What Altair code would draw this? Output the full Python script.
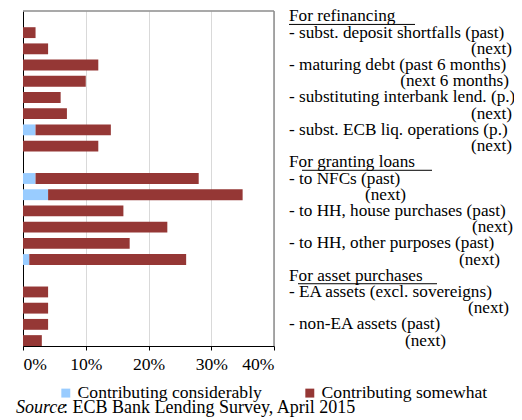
import altair as alt
import pandas as pd

# ---- data ----
rows = [f"r{i:02d}" for i in range(21)]
labels = [
    "For refinancing",
    "- subst. deposit shortfalls (past)",
    "(next)",
    "- maturing debt (past 6 months)",
    "(next 6 months)",
    "- substituting interbank lend. (p.)",
    "(next)",
    "- subst. ECB liq. operations (p.)",
    "(next)",
    "For granting loans",
    "- to NFCs (past)",
    "(next)",
    "- to HH, house purchases (past)",
    "(next)",
    "- to HH, other purposes (past)",
    "(next)",
    "For asset purchases",
    "- EA assets (excl. sovereigns)",
    "(next)",
    "- non-EA assets (past)",
    "(next)",
]
considerably = [None, 0, 0, 0, 0, 0, 0, 2, 0, None, 2, 4, 0, 0, 0, 1, None, 0, 0, 0, 0]
somewhat = [None, 2, 4, 12, 10, 6, 7, 12, 12, None, 26, 31, 16, 23, 17, 25, None, 4, 4, 4, 3]
series = ["Contributing considerably", "Contributing somewhat"]
colors = ["#99CCFF", "#953735"]
ticks = [0, 10, 20, 30, 40]

FONT = "Liberation Serif, Times New Roman, serif"
FS = 17.6
FS_LAB = 17.2

# ---- layout for the right-hand label column (plot-relative pixels) ----
W, H = 251, 335
LEFT_X = 266
right_edge = {2: 489, 4: 486, 6: 489, 8: 489, 11: 383, 13: 490, 15: 477, 18: 486, 20: 423}
headers = {0: (266, 392), 9: (279, 409), 16: (275, 414)}

# ---- build tables ----
bar_rows = []
for r, c, s in zip(rows, considerably, somewhat):
    if c is None:
        continue
    bar_rows.append({"row": r, "series": series[0], "value": c, "ord": 0})
    bar_rows.append({"row": r, "series": series[1], "value": s, "ord": 1})
bars_df = pd.DataFrame(bar_rows)

left_df = pd.DataFrame([{"row": rows[i], "text": t} for i, t in enumerate(labels) if i not in right_edge])
right_df = pd.DataFrame([{"row": rows[i], "text": labels[i], "rx": right_edge[i]} for i in right_edge])
ul_df = pd.DataFrame([{"row": rows[i], "x1": a, "x2": b} for i, (a, b) in headers.items()])

yscale = alt.Scale(domain=rows, paddingInner=0.33, paddingOuter=0)


def yenc():
    return alt.Y("row:N", sort=rows, scale=yscale,
                 axis=alt.Axis(labels=False, ticks=False, title=None, domain=True,
                               domainColor="black", domainWidth=1, grid=False))


one = pd.DataFrame({"k": [0]})
border_top = alt.Chart(one).mark_rule(color="#8c8c8c", strokeWidth=1.5).encode(
    x=alt.value(0), x2=alt.value(W), y=alt.value(0))
border_right = alt.Chart(one).mark_rule(color="#8c8c8c", strokeWidth=1.5).encode(
    x=alt.value(W), y=alt.value(0), y2=alt.value(H))

bars = alt.Chart(bars_df).mark_bar().encode(
    x=alt.X("value:Q", stack="zero",
            scale=alt.Scale(domain=[0, 40], nice=False),
            axis=alt.Axis(values=ticks, labelExpr="datum.value + '%'", title=None,
                          grid=True, gridColor="#d9d9d9", domainColor="black", domainWidth=1,
                          tickColor="black", tickSize=4, labelPadding=5,
                          labelFont=FONT, labelFontSize=FS, labelColor="black")),
    y=yenc(),
    color=alt.Color("series:N", scale=alt.Scale(domain=series, range=colors),
                    legend=alt.Legend(title=None, orient="none", direction="horizontal",
                                      legendX=34, legendY=373, symbolType="square",
                                      symbolSize=80, symbolStrokeWidth=0,
                                      labelFont=FONT, labelFontSize=FS, labelColor="black",
                                      labelLimit=400, columnPadding=39, labelOffset=3)),
    order=alt.Order("ord:Q"),
)

left_text = alt.Chart(left_df).mark_text(
    align="left", baseline="middle", font=FONT, fontSize=FS_LAB, color="black"
).encode(
    x=alt.value(LEFT_X),
    y=yenc(),
    text="text:N",
)

right_text = alt.Chart(right_df).mark_text(
    align="right", baseline="middle", font=FONT, fontSize=FS_LAB, color="black"
).encode(
    x=alt.X("rx:Q", scale=None, axis=None),
    y=yenc(),
    text="text:N",
)

underline = alt.Chart(ul_df).mark_rule(color="black", strokeWidth=1, yOffset=8).encode(
    x=alt.X("x1:Q", scale=None, axis=None),
    x2="x2:Q",
    y=yenc(),
)

src1 = alt.Chart(pd.DataFrame({"t": ["Source"]})).mark_text(
    align="left", baseline="middle", font=FONT, fontSize=18, fontStyle="italic", color="black"
).encode(x=alt.value(-7), y=alt.value(397), text="t:N")

src2 = alt.Chart(pd.DataFrame({"t": [": ECB Bank Lending Survey, April 2015"]})).mark_text(
    align="left", baseline="middle", font=FONT, fontSize=18, color="black"
).encode(x=alt.value(40), y=alt.value(397), text="t:N")

chart = alt.layer(border_top, border_right, bars, left_text, right_text, underline, src1, src2).properties(
    width=W, height=H,
    autosize=alt.AutoSizeParams(type="none"),
    padding={"left": 15, "top": 3, "right": 240, "bottom": 74},
).configure_view(stroke=None)

chart.save("out.html", embed_options={"renderer": "svg", "actions": False})
